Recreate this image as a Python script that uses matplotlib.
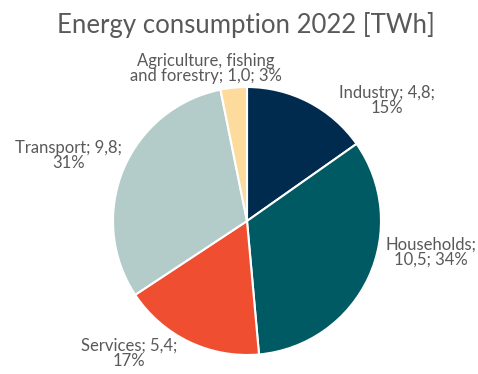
import matplotlib
matplotlib.use("Agg")
import matplotlib.pyplot as plt

categories = ["Industry", "Households", "Services", "Transport", "Agriculture, fishing\nand forestry"]
values = [4.8, 10.5, 5.4, 9.8, 1.0]
value_text = ["4,8", "10,5", "5,4", "9,8", "1,0"]
shares = [15, 34, 17, 31, 3]
colors = ["#002B4F", "#005A63", "#F04E31", "#B3CCCA", "#FDDB9D"]

# label text layout and positions (data units, pie radius 1)
label_fmt = ["{c}; {v};\n{p}%", "{c};\n{v}; {p}%", "{c}; {v};\n{p}%", "{c}; {v};\n{p}%", "{c}; {v}; {p}%"]
label_pos = [(1.045, 0.90), (1.37, -0.23), (-0.88, -0.985), (-1.33, 0.49), (-0.31, 1.14)]

plt.rcParams['font.family'] = ['Lato', 'DejaVu Sans']
fig = plt.figure(figsize=(4.78, 3.74), dpi=100)
ax = fig.add_axes([(247 - 134) / 478, (374 - 355) / 374, 268 / 478, 268 / 374])
ax.pie(values, colors=colors, startangle=90, counterclock=False, radius=1,
       wedgeprops=dict(edgecolor="white", linewidth=1.5))
ax.set_xlim(-1, 1)
ax.set_ylim(-1, 1)
ax.set_aspect("auto")
ax.axis("off")

for c, v, p, fmt, (x, y) in zip(categories, value_text, shares, label_fmt, label_pos):
    ax.text(x, y, fmt.format(c=c, v=v, p=p), ha="center", va="center",
            fontsize=12, color="#595959", linespacing=0.95, clip_on=False)

fig.text(246 / 478, 1 - 25 / 374, "Energy consumption 2022 [TWh]", ha="center", va="center",
         fontsize=18.5, color="#595959")

fig.savefig("out.png", dpi=100)
